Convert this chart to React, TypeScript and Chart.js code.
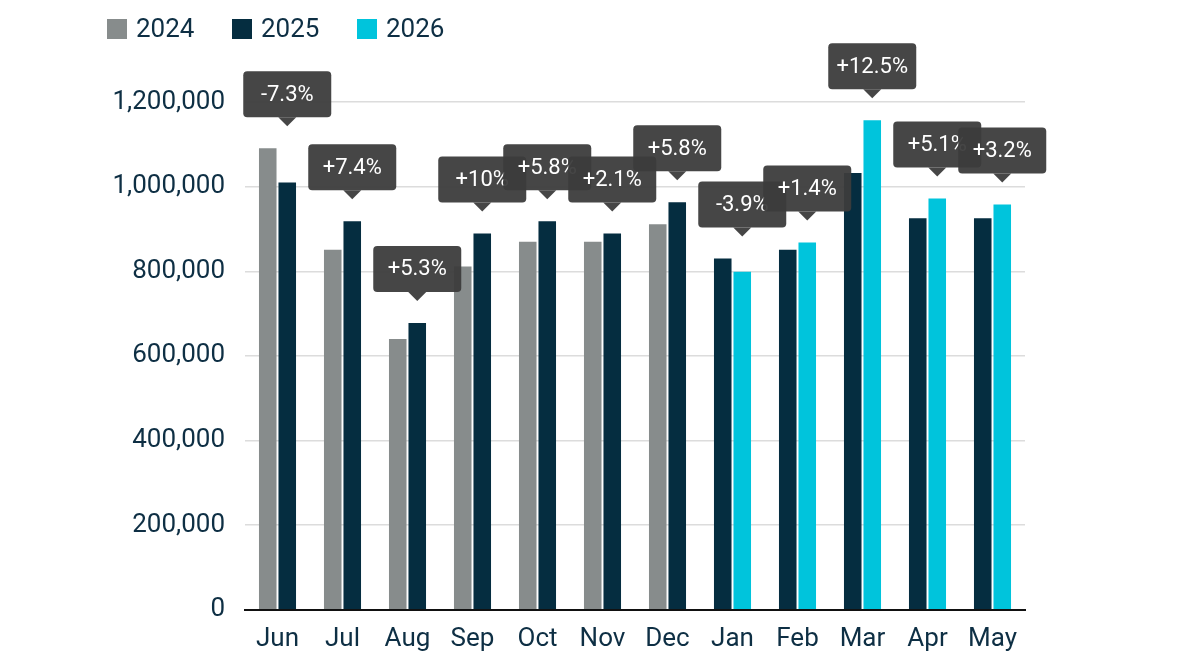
import React, { useEffect, useRef } from "react";
import { Chart, registerables } from "chart.js";
Chart.register(...registerables);

const months = ["Jun","Jul","Aug","Sep","Oct","Nov","Dec","Jan","Feb","Mar","Apr","May"];
const s2024 = [1091000,851000,640000,811000,870000,870000,911000,null,null,null,null,null];
const s2025 = [1010000,918000,678000,889000,918000,889000,963000,830000,851000,1032000,925000,925000];
const s2026 = [null,null,null,null,null,null,null,799000,868000,1157000,972000,958000];
const changes = ["-7.3%","+7.4%","+5.3%","+10%","+5.8%","+2.1%","+5.8%","-3.9%","+1.4%","+12.5%","+5.1%","+3.2%"];
const seriesNames = ["2024","2025","2026"];
const colors = ["#878c8c","#052d40","#00c4dc"];
const TXT = "#0e2f44";

export default function App() {
  const ref = useRef<HTMLCanvasElement>(null);
  useEffect(() => {
    document.body.style.margin = "0";
    const callouts = {
      id: "callouts",
      afterDatasetsDraw(chart: any) {
        const ctx = chart.ctx;
        ctx.save();
        months.forEach((_, i) => {
          let topY = Infinity, x = 0;
          [0,1,2].forEach(d => {
            const meta = chart.getDatasetMeta(d);
            const v = (chart.data.datasets[d].data as any[])[i];
            if (v == null) return;
            const el = meta.data[i];
            topY = Math.min(topY, el.y);
            x = el.x;
          });
          const tip = topY - 22;
          const bw = 88, bh = 46, bottom = tip - 9;
          ctx.fillStyle = "rgba(60,60,60,0.95)";
          ctx.beginPath();
          (ctx as any).roundRect(x - bw/2, bottom - bh, bw, bh, 4);
          ctx.fill();
          ctx.beginPath();
          ctx.moveTo(x - 9, bottom); ctx.lineTo(x + 9, bottom); ctx.lineTo(x, tip); ctx.closePath();
          ctx.fill();
          ctx.fillStyle = "#fff";
          ctx.font = "22px Roboto";
          ctx.textAlign = "center"; ctx.textBaseline = "middle";
          ctx.fillText(changes[i], x, bottom - bh/2 + 1);
        });
        ctx.font = "26px Roboto"; ctx.textAlign = "left"; ctx.textBaseline = "middle";
        seriesNames.forEach((n, k) => {
          const lx = 107 + k * 125;
          ctx.fillStyle = colors[k];
          ctx.fillRect(lx, 19, 20, 20);
          ctx.fillStyle = TXT;
          ctx.fillText(n, lx + 29, 30);
        });
        ctx.restore();
      },
    };
    const chart = new Chart(ref.current!, {
      type: "bar",
      data: {
        labels: months,
        datasets: seriesNames.map((n, k) => ({
          label: n,
          data: [s2024, s2025, s2026][k] as any,
          backgroundColor: colors[k],
          categoryPercentage: 0.6,
          barPercentage: 0.9,
        })),
      },
      options: {
        animation: false,
        responsive: false,
        skipNull: true,
        layout: { padding: { left: 100, right: 159, top: 102, bottom: 5 } },
        plugins: { legend: { display: false }, tooltip: { enabled: false } },
        scales: {
          x: {
            grid: { display: false },
            border: { color: "#111", width: 2 },
            ticks: { color: TXT, font: { family: "Roboto", size: 26 }, padding: 6 },
          },
          y: {
            min: 0, max: 1200000,
            afterFit: (s: any) => { s.width = 145; },
            ticks: { stepSize: 200000, color: TXT, font: { family: "Roboto", size: 26 }, padding: 20,
              callback: (v: any) => Number(v).toLocaleString("en-US") },
            grid: { color: "#dcdcdc", lineWidth: 1.5, drawTicks: false },
            border: { display: false },
          },
        },
      } as any,
      plugins: [callouts],
    });
    return () => chart.destroy();
  }, []);
  return <canvas ref={ref} width={1184} height={666} style={{ display: "block" }} />;
}
